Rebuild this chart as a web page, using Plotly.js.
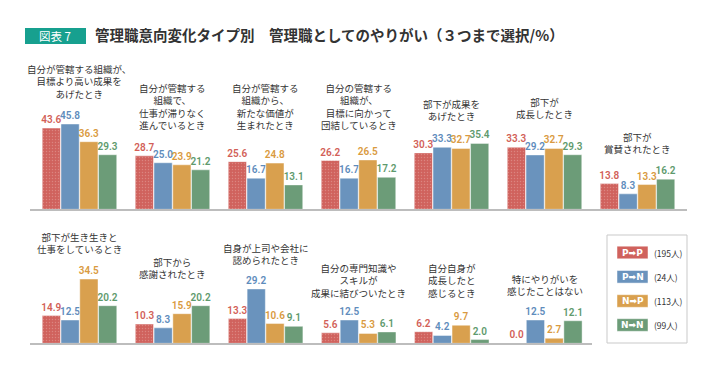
<!DOCTYPE html>
<html><head><meta charset="utf-8">
<script src="https://cdn.plot.ly/plotly-3.0.1.min.js"></script>
<style>html,body{margin:0;padding:0;background:#fff;}#chart{width:717px;height:371px;}</style>
</head><body><div id="chart"></div>
<script>
// ---- data ----
const topCategories = [
  "自分が管轄する組織が、<br>目標より高い成果を<br>あげたとき",
  "自分が管轄する<br>組織で、<br>仕事が滞りなく<br>進んでいるとき",
  "自分が管轄する<br>組織から、<br>新たな価値が<br>生まれたとき",
  "自分の管轄する<br>組織が、<br>目標に向かって<br>団結しているとき",
  "部下が成果を<br>あげたとき",
  "部下が<br>成長したとき",
  "部下が<br>賞賛されたとき"
];
const bottomCategories = [
  "部下が生き生きと<br>仕事をしているとき",
  "部下から<br>感謝されたとき",
  "自身が上司や会社に<br>認められたとき",
  "自分の専門知識や<br>スキルが<br>成果に結びついたとき",
  "自分自身が<br>成長したと<br>感じるとき",
  "特にやりがいを<br>感じたことはない"
];
const seriesNames = ["P➡P", "P➡N", "N➡P", "N➡N"];
const seriesCounts = ["(195人)", "(24人)", "(113人)", "(99人)"];
const topPP = [43.6, 28.7, 25.6, 26.2, 30.3, 33.3, 13.8];
const topPN = [45.8, 25.0, 16.7, 16.7, 33.3, 29.2, 8.3];
const topNP = [36.3, 23.9, 24.8, 26.5, 32.7, 32.7, 13.3];
const topNN = [29.3, 21.2, 13.1, 17.2, 35.4, 29.3, 16.2];
const bottomPP = [14.9, 10.3, 13.3, 5.6, 6.2, 0.0];
const bottomPN = [12.5, 8.3, 29.2, 12.5, 4.2, 12.5];
const bottomNP = [34.5, 15.9, 10.6, 5.3, 9.7, 2.7];
const bottomNN = [20.2, 20.2, 9.1, 6.1, 2.0, 12.1];

// ---- styles ----
const W = 717, H = 371;
const px = x => x / W;
const py = y => 1 - y / H;
const barColors = ["#d0625d", "#6a93bd", "#d9a04e", "#6c9c78"];
const textColors = ["#d25f58", "#5e8cbc", "#d99a40", "#5e9a6d"];
const jp = '"Noto Sans CJK JP", "Noto Sans", sans-serif';

function mkTrace(i, cats, vals, xa, ya) {
  const marker = { color: barColors[i], line: { color: "rgba(255,255,255,0.55)", width: 0.8 } };
  if (i === 0) marker.pattern = { shape: ".", bgcolor: barColors[0], fgcolor: "#dc8580", size: 3, solidity: 0.18, fillmode: "replace" };
  return {
    type: "bar", x: cats, y: vals, xaxis: xa, yaxis: ya, name: seriesNames[i],
    marker: marker, showlegend: false,
    text: vals.map(v => v.toFixed(1)), textposition: "outside", constraintext: "none",
    cliponaxis: false,
    textfont: { family: "Roboto, sans-serif", size: 10, color: textColors[i], weight: 600 },
    hoverinfo: "skip"
  };
}
const topVals = [topPP, topPN, topNP, topNN];
const botVals = [bottomPP, bottomPN, bottomNP, bottomNN];
const traces = [];
for (let i = 0; i < 4; i++) traces.push(mkTrace(i, topCategories, topVals[i], "x", "y"));
for (let i = 0; i < 4; i++) traces.push(mkTrace(i, bottomCategories, botVals[i], "x2", "y2"));

// group label vertical centers (pixels)
const topLabelY = [81.7, 106.7, 106.7, 106.7, 109.5, 108.3, 143.3];
const botLabelY = [242.8, 267.7, 254.2, 280, 280, 285];

const annotations = [];
topCategories.forEach((c, k) => annotations.push({
  x: c, xref: "x", y: py(topLabelY[k]), yref: "paper", yanchor: "middle", xanchor: "center",
  text: c, showarrow: false, align: "center", font: { family: jp, size: 9.5, color: "#333" }
}));
bottomCategories.forEach((c, k) => annotations.push({
  x: c, xref: "x2", y: py(botLabelY[k]), yref: "paper", yanchor: "middle", xanchor: "center",
  text: c, showarrow: false, align: "center", font: { family: jp, size: 9.5, color: "#333" }
}));
// title badge text
annotations.push({ x: px(55.5), y: py(36), xref: "paper", yref: "paper", xanchor: "center", yanchor: "middle",
  text: "図表 7", showarrow: false, font: { family: jp, size: 11.5, color: "#fff" } });

const shapes = [
  { type: "rect", xref: "paper", yref: "paper", x0: px(25), x1: px(86), y0: py(28), y1: py(44), fillcolor: "#17a08f", line: { width: 0 } },
  { type: "rect", xref: "paper", yref: "paper", x0: px(607), x1: px(687), y0: py(235), y1: py(343), fillcolor: "rgba(0,0,0,0)", line: { color: "#c9c9c9", width: 1 } }
];
const legY = [252.5, 276.8, 301, 325];
for (let i = 0; i < 4; i++) {
  shapes.push({ type: "rect", xref: "paper", yref: "paper", x0: px(617), x1: px(648), y0: py(legY[i] - 6.3), y1: py(legY[i] + 6.3),
    fillcolor: barColors[i], line: { color: "rgba(255,255,255,0.6)", width: 0.8 } });
  annotations.push({ x: px(632.5), y: py(legY[i]), xref: "paper", yref: "paper", xanchor: "center", yanchor: "middle",
    text: "<b>" + seriesNames[i] + "</b>", showarrow: false, font: { family: '"DejaVu Sans", sans-serif', size: 9, color: "#fff" } });
  annotations.push({ x: px(652), y: py(legY[i]), xref: "paper", yref: "paper", xanchor: "left", yanchor: "middle",
    text: seriesCounts[i], showarrow: false, font: { family: jp, size: 8.5, color: "#333" } });
}

const layout = {
  width: W, height: H, margin: { l: 0, r: 0, t: 0, b: 0 },
  paper_bgcolor: "#fff", plot_bgcolor: "rgba(0,0,0,0)",
  barmode: "group", bargap: 0.193, bargroupgap: 0.03,
  title: { text: "<b>管理職意向変化タイプ別　管理職としてのやりがい（３つまで選択/%）</b>", x: px(95), xanchor: "left", xref: "paper",
    y: py(36), yanchor: "middle", yref: "paper", font: { family: jp, size: 14.5, color: "#333" } },
  xaxis: { domain: [px(30), px(687)], range: [-0.532, 6.532], anchor: "y", showticklabels: false, ticks: "",
    showline: true, linecolor: "#bdbdbd", linewidth: 1.5, showgrid: false, zeroline: false, fixedrange: true },
  yaxis: { domain: [py(209.3), 1], range: [0, 209.3 / 1.862], visible: false, showgrid: false, zeroline: false },
  xaxis2: { domain: [px(30), px(592)], range: [-0.532, 5.507], anchor: "y2", showticklabels: false, ticks: "",
    showline: true, linecolor: "#bdbdbd", linewidth: 1.5, showgrid: false, zeroline: false },
  yaxis2: { domain: [py(343.3), py(225)], range: [0, (343.3 - 225) / 1.862], visible: false, showgrid: false, zeroline: false },
  annotations: annotations, shapes: shapes
};
Plotly.newPlot("chart", traces, layout, { displayModeBar: false, staticPlot: true });
</script></body></html>
